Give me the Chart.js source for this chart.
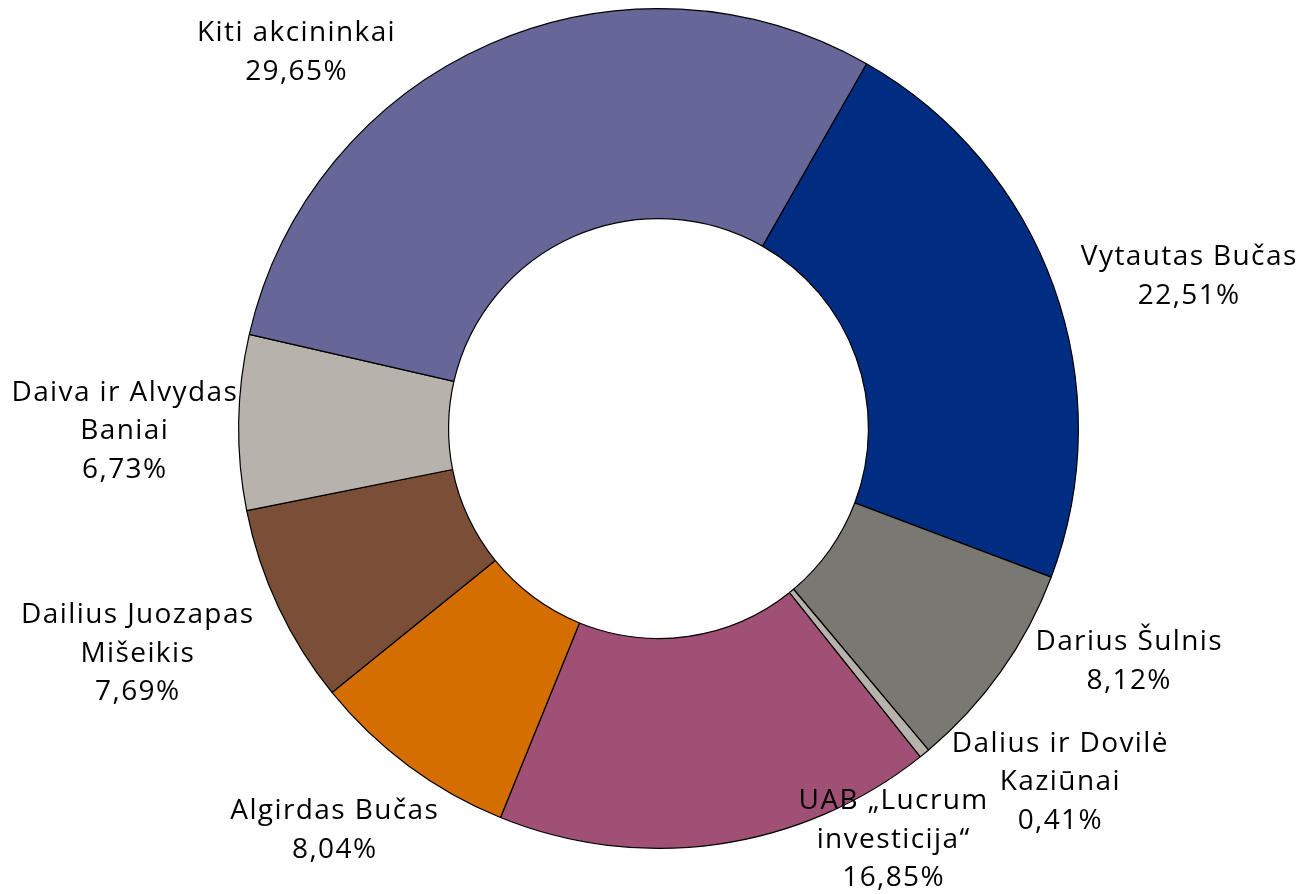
<!DOCTYPE html>
<html>
<head>
<meta charset="utf-8">
<script src="https://cdn.jsdelivr.net/npm/chart.js@4"></script>
<style>
  html, body { margin: 0; padding: 0; background: #ffffff; }
  #wrap { width: 1303px; height: 894px; position: relative; }
</style>
</head>
<body>
<div id="wrap"><canvas id="c" width="1303" height="894"></canvas></div>
<script>
// ---- Data ----
const categories = [
  "Vytautas Bučas",
  "Darius Šulnis",
  "Dalius ir Dovilė\nKaziūnai",
  "UAB „Lucrum\ninvesticija“",
  "Algirdas Bučas",
  "Dailius Juozapas\nMišeikis",
  "Daiva ir Alvydas\nBaniai",
  "Kiti akcininkai"
];
const shares = [22.51, 8.12, 0.41, 16.85, 8.04, 7.69, 6.73, 29.65];

// ---- Styling / layout (kept separate from data) ----
const sliceColors = ["#002D82", "#7A7873", "#B7B2AB", "#A05075", "#D46E00", "#7B4E38", "#B7B2AB", "#666699"];
// label block centres relative to the chart centre, in units of outer radius
const labelAnchors = [
  [1.264, -0.362],
  [1.121, 0.555],
  [0.957, 0.843],
  [0.560, 0.979],
  [-0.771, 0.957],
  [-1.240, 0.536],
  [-1.271, 0.007],
  [-0.862, -0.895]
];
const FONT = '28px "Open Sans", "Noto Sans", sans-serif';
const LETTER_SPACING = '1.4px';
const LINE_H = 38.5;

const labelPlugin = {
  id: 'outLabels',
  afterDraw(chart) {
    const meta = chart.getDatasetMeta(0);
    const arc0 = meta.data[0];
    const cx = arc0.x, cy = arc0.y, R = arc0.outerRadius;
    const ctx = chart.ctx;
    ctx.save();
    ctx.font = FONT;
    if ('letterSpacing' in ctx) ctx.letterSpacing = LETTER_SPACING;
    ctx.fillStyle = '#000000';
    ctx.textAlign = 'center';
    ctx.textBaseline = 'middle';
    categories.forEach((name, i) => {
      const lines = name.split('\n');
      lines.push(shares[i].toFixed(2).replace('.', ',') + '%');
      const ax = cx + labelAnchors[i][0] * R;
      const ay = cy + labelAnchors[i][1] * R;
      const top = ay - (lines.length - 1) * LINE_H / 2;
      lines.forEach((ln, j) => ctx.fillText(ln, ax, top + j * LINE_H));
    });
    ctx.restore();
  }
};

new Chart(document.getElementById('c'), {
  type: 'doughnut',
  data: {
    labels: categories,
    datasets: [{
      data: shares,
      backgroundColor: sliceColors,
      borderColor: '#000000',
      borderWidth: 1.2,
      borderAlign: 'center'
    }]
  },
  options: {
    responsive: false,
    animation: false,
    rotation: 29.7,
    cutout: '50%',
    layout: { padding: { top: 8, bottom: 45, left: 238, right: 224 } },
    plugins: {
      legend: { display: false },
      tooltip: { enabled: false }
    }
  },
  plugins: [labelPlugin]
});
</script>
</body>
</html>
